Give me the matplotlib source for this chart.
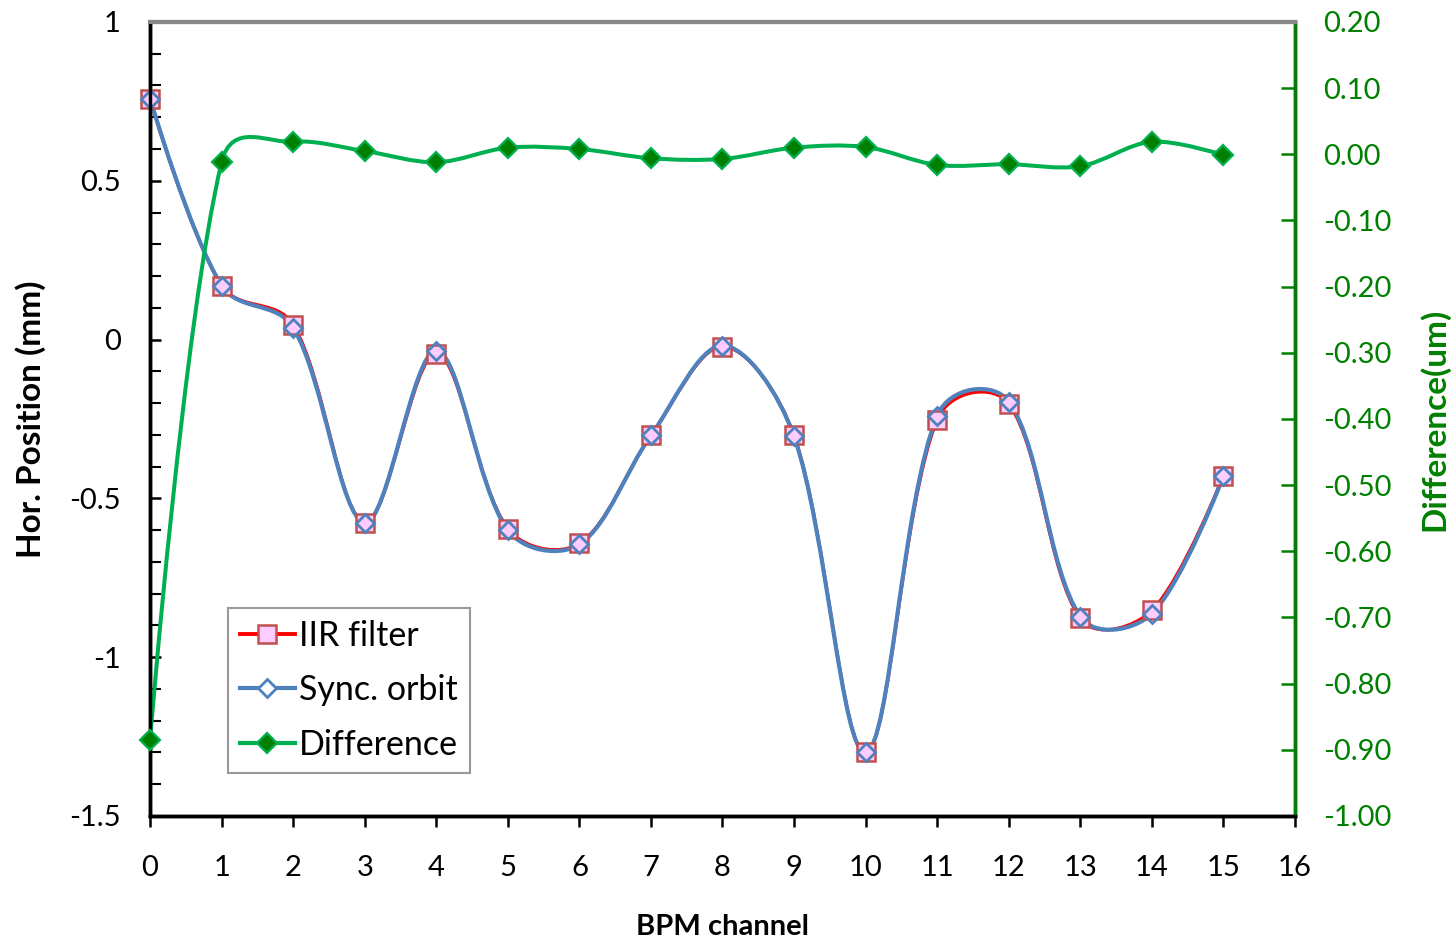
import numpy as np
import matplotlib
matplotlib.use("Agg")
import matplotlib.pyplot as plt
from matplotlib.path import Path
from matplotlib.patches import PathPatch
from matplotlib.lines import Line2D
from matplotlib.ticker import MultipleLocator, FormatStrFormatter

plt.rcParams['font.family'] = ['Lato', 'DejaVu Sans']

channels = list(range(16))
iir_filter = [0.759, 0.170, 0.047, -0.576, -0.044, -0.595, -0.642, -0.302,
              -0.022, -0.302, -1.300, -0.252, -0.202, -0.878, -0.853, -0.428]
sync_orbit = [0.759, 0.170, 0.038, -0.576, -0.035, -0.600, -0.645, -0.302,
              -0.019, -0.305, -1.300, -0.240, -0.195, -0.872, -0.863, -0.431]
difference = [-0.885, -0.012, 0.019, 0.005, -0.012, 0.010, 0.008, -0.006,
              -0.007, 0.010, 0.011, -0.016, -0.015, -0.018, 0.019, -0.001]


def smooth_path(ax, x, y):
    """Excel-like smoothed line: cubic Bezier with chord-scaled tangents,
    computed in display space then mapped back to data coords."""
    fig = ax.figure
    fig.canvas.draw()
    pts = ax.transData.transform(np.column_stack([x, y]))
    n = len(pts)
    d = np.hypot(*np.diff(pts, axis=0).T)
    verts = [pts[0]]
    codes = [Path.MOVETO]

    def tangent(i):
        if i == 0 or i == n - 1:
            return None
        return pts[i + 1] - pts[i - 1]

    for i in range(n - 1):
        p1, p2 = pts[i], pts[i + 1]
        t1 = tangent(i)
        t2 = tangent(i + 1)
        if t1 is None:
            c1 = p1.copy()
        else:
            w = 0.75 * d[i] / (d[i - 1] + d[i]) + 0.25 * 0.5
            c1 = p1 + t1 * w / 3.0
        if t2 is None:
            c2 = p2.copy()
        else:
            w = 0.75 * d[i] / (d[i] + d[i + 1]) + 0.25 * 0.5
            c2 = p2 - t2 * w / 3.0
        verts += [c1, c2, p2]
        codes += [Path.CURVE4] * 3
    verts = ax.transData.inverted().transform(np.array(verts))
    return Path(verts, codes)


fig = plt.figure(figsize=(14.54, 9.39), dpi=100)
ax = fig.add_axes([0.1032, 0.131, 0.7874, 0.8456])
ax2 = ax.twinx()

red = '#FF0000'
blue = '#4F81BD'
green_line = '#00B050'
green_dark = '#008000'

ax.set_xlim(0, 16)
ax.set_ylim(-1.5, 1.0)
ax2.set_ylim(-1.0, 0.2)

# left axis series
ax.add_patch(PathPatch(smooth_path(ax, channels, iir_filter), facecolor='none',
                       edgecolor=red, lw=2.4, zorder=2))
ax.add_patch(PathPatch(smooth_path(ax, channels, sync_orbit), facecolor='none',
                       edgecolor=blue, lw=3.0, zorder=3))
ax.plot(channels, iir_filter, ls='none', marker='s', ms=13, mfc='#FFCCFF',
        mec='#C0504D', mew=1.8, zorder=4, clip_on=False)
ax.plot(channels, sync_orbit, ls='none', marker='D', ms=9.5, mfc='none',
        mec=blue, mew=2.0, zorder=5, clip_on=False)

# right axis series
ax2.add_patch(PathPatch(smooth_path(ax2, channels, difference), facecolor='none',
                        edgecolor=green_line, lw=2.9, zorder=2))
ax2.plot(channels, difference, ls='none', marker='D', ms=9.8, mfc=green_dark,
         mec=green_line, mew=1.6, zorder=4, clip_on=False)

ax.xaxis.set_major_locator(MultipleLocator(1))
ax.yaxis.set_major_locator(MultipleLocator(0.5))
ax.yaxis.set_minor_locator(MultipleLocator(0.1))
ax2.yaxis.set_major_locator(MultipleLocator(0.1))
ax2.yaxis.set_major_formatter(FormatStrFormatter('%.2f'))
ax.yaxis.set_major_formatter(matplotlib.ticker.FuncFormatter(
    lambda v, p: ('%g' % round(v, 2))))

ax.tick_params(axis='x', direction='out', length=8, width=1.8, labelsize=21,
               pad=20, colors='black')
ax.tick_params(axis='y', which='major', direction='in', length=8, width=1.8,
               labelsize=21, pad=21)
ax.tick_params(axis='y', which='minor', direction='in', length=8, width=1.5)
ax2.tick_params(axis='y', direction='in', length=10, width=1.8, labelsize=21,
                pad=20, colors=green_dark)

for a in (ax, ax2):
    a.spines['left'].set_color('black')
    a.spines['left'].set_linewidth(2.5)
    a.spines['bottom'].set_color('black')
    a.spines['bottom'].set_linewidth(2.5)
    a.spines['top'].set_color('#888888')
    a.spines['top'].set_linewidth(3)
    a.spines['right'].set_color(green_dark)
    a.spines['right'].set_linewidth(2.5)

ax.set_xlabel('BPM channel', fontsize=21, fontweight='bold', labelpad=24)
ax.set_ylabel('Hor. Position (mm)', fontsize=24, fontweight='bold')
ax.yaxis.set_label_coords(-0.091, 0.5)
ax2.set_ylabel('Difference(um)', fontsize=24, fontweight='bold',
               color=green_dark)
ax2.yaxis.set_label_coords(1.108, 0.5)

handles = [
    Line2D([], [], color=red, lw=2.8, marker='s', ms=13, mfc='#FFCCFF',
           mec='#C0504D', mew=1.8),
    Line2D([], [], color=blue, lw=3.0, marker='D', ms=9.5, mfc='white',
           mec=blue, mew=2.0),
    Line2D([], [], color=green_line, lw=3.0, marker='D', ms=9.8,
           mfc=green_dark, mec=green_line, mew=1.6),
]
leg = ax2.legend(handles, ['IIR filter', 'Sync. orbit', 'Difference'],
                 loc='lower left', bbox_to_anchor=(0.068, 0.054),
                 fontsize=24.5, frameon=True, fancybox=False, handlelength=1.6,
                 handletextpad=0.12, labelspacing=0.66, borderpad=0.36,
                 borderaxespad=0)
leg.get_frame().set_edgecolor('#808080')
leg.get_frame().set_linewidth(1.5)

fig.savefig('out.png', dpi=100)
